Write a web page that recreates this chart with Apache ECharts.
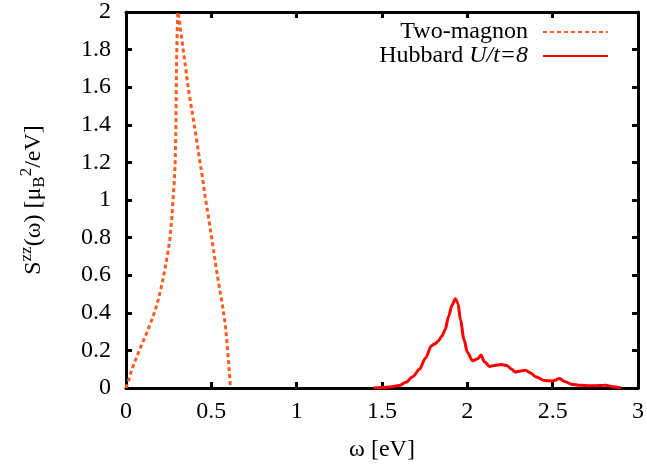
<!DOCTYPE html>
<html>
<head>
<meta charset="utf-8">
<script src="https://cdn.jsdelivr.net/npm/echarts@6/dist/echarts.min.js"></script>
<style>html,body{margin:0;padding:0;background:#fff}#c{width:647px;height:468px}</style>
</head>
<body>
<div id="c"></div>
<script>
// Two-magnon spectrum
const omegaTwoMagnon = [0, 0.015, 0.033, 0.06, 0.092, 0.12, 0.15, 0.17, 0.189, 0.21, 0.228, 0.245, 0.257, 0.268, 0.277, 0.283, 0.288, 0.292, 0.296, 0.300, 0.304, 0.308, 0.312, 0.322, 0.335, 0.35, 0.364, 0.378, 0.393, 0.412, 0.432, 0.45, 0.467, 0.49, 0.51, 0.53, 0.55, 0.565, 0.58, 0.59, 0.598, 0.605, 0.612];
const sTwoMagnon     = [0, 0.04, 0.096, 0.16, 0.23, 0.29, 0.36, 0.41, 0.47, 0.55, 0.63, 0.72, 0.79, 0.90, 1.02, 1.10, 1.20, 1.36, 1.71, 1.90, 2.00, 1.98, 1.96, 1.89, 1.80, 1.70, 1.60, 1.52, 1.44, 1.33, 1.21, 1.11, 1.00, 0.87, 0.75, 0.63, 0.52, 0.44, 0.35, 0.26, 0.17, 0.09, 0.0];
// Hubbard U/t=8
const omegaHubbard = [1.45, 1.50, 1.55, 1.60, 1.64, 1.68, 1.72, 1.755, 1.79, 1.81, 1.83, 1.85, 1.87, 1.89, 1.91, 1.93, 1.945, 1.96, 1.98, 2.00, 2.03, 2.06, 2.08, 2.10, 2.13, 2.16, 2.20, 2.23, 2.26, 2.28, 2.31, 2.34, 2.37, 2.40, 2.45, 2.50, 2.54, 2.57, 2.61, 2.66, 2.72, 2.78, 2.81, 2.85, 2.90];
const sHubbard     = [0.0, 0.002, 0.005, 0.013, 0.03, 0.06, 0.10, 0.16, 0.225, 0.235, 0.25, 0.275, 0.31, 0.38, 0.44, 0.475, 0.45, 0.36, 0.26, 0.19, 0.145, 0.155, 0.175, 0.14, 0.115, 0.12, 0.125, 0.12, 0.10, 0.085, 0.09, 0.095, 0.08, 0.06, 0.04, 0.037, 0.05, 0.035, 0.02, 0.014, 0.012, 0.013, 0.015, 0.007, 0.0];
const xTicks = {min: 0, max: 3, interval: 0.5};
const yTicks = {min: 0, max: 2, interval: 0.2};
const seriesNames = ['Two-magnon', 'Hubbard U/t=8'];

const zip = (xs, ys) => xs.map((x, i) => [x, ys[i]]);
const font = "'Liberation Serif', 'Times New Roman', serif";
const fmt = v => (Math.round(v * 10) / 10).toString();

const chart = echarts.init(document.getElementById('c'));
const axisLine = {show: true, onZero: false, lineStyle: {color: '#000', width: 3}};
const tick = {show: true, inside: true, length: 6, lineStyle: {color: '#000', width: 3}};
chart.setOption({
  animation: false,
  backgroundColor: '#fff',
  grid: {left: 126, right: 6, top: 12, bottom: 80, containLabel: false},
  legend: {
    orient: 'vertical', right: 33, top: 15, align: 'right',
    itemWidth: 65, itemHeight: 14, itemGap: 0,
    itemStyle: {opacity: 0}, lineStyle: {opacity: 1},
    textStyle: {fontFamily: font, fontSize: 24, lineHeight: 24, color: '#000', padding: [0, 10, 0, 0],
      rich: {i: {fontFamily: font, fontSize: 24, lineHeight: 24, fontStyle: 'italic', color: '#000'}, n: {fontFamily: font, fontSize: 24, lineHeight: 24, color: '#000'}}},
    formatter: name => name === 'Hubbard U/t=8' ? '{n|Hubbard }{i|U/t=8}' : name,
    data: seriesNames
  },
  xAxis: [{
    type: 'value', min: xTicks.min, max: xTicks.max, interval: xTicks.interval, position: 'bottom',
    axisLine, axisTick: tick, splitLine: {show: false},
    axisLabel: {fontFamily: font, fontSize: 24, color: '#000', margin: 12, formatter: fmt},
    name: 'ω [eV]', nameLocation: 'middle', nameGap: 50,
    nameTextStyle: {fontFamily: font, fontSize: 24, color: '#000'}
  }, {
    type: 'value', min: xTicks.min, max: xTicks.max, interval: xTicks.interval, position: 'top',
    axisLine, axisTick: tick, splitLine: {show: false}, axisLabel: {show: false}
  }],
  yAxis: [{
    type: 'value', min: yTicks.min, max: yTicks.max, interval: yTicks.interval, position: 'left',
    axisLine, axisTick: tick, splitLine: {show: false},
    axisLabel: {fontFamily: font, fontSize: 24, color: '#000', margin: 15, formatter: fmt},
    name: '{t|S}{s|zz}{t|(ω) [μ}{b|B}{s|2}{t|/eV]}', nameLocation: 'middle', nameGap: 77, nameRotate: 90,
    nameTextStyle: {fontFamily: font, fontSize: 24, color: '#000',
      rich: {
        t: {fontFamily: font, fontSize: 24, color: '#000'},
        s: {fontFamily: font, fontSize: 17, color: '#000', padding: [0, 0, 14, 0]},
        b: {fontFamily: font, fontSize: 17, color: '#000', padding: [12, 0, 0, 0]}
      }}
  }, {
    type: 'value', min: yTicks.min, max: yTicks.max, interval: yTicks.interval, position: 'right',
    axisLine, axisTick: tick, splitLine: {show: false}, axisLabel: {show: false}
  }],
  series: [{
    name: seriesNames[0], type: 'line', data: zip(omegaTwoMagnon, sTwoMagnon),
    showSymbol: false, symbol: 'none', clip: true, z: 3,
    lineStyle: {color: '#ff5a1f', width: 3, type: [4, 3]}, itemStyle: {color: '#ff5a1f'}
  }, {
    name: seriesNames[1], type: 'line', data: zip(omegaHubbard, sHubbard),
    showSymbol: false, symbol: 'none', smooth: 0.3, smoothMonotone: 'x', clip: true, z: 3,
    lineStyle: {color: '#ff0000', width: 3}, itemStyle: {color: '#ff0000'}
  }]
});
</script>
</body>
</html>
